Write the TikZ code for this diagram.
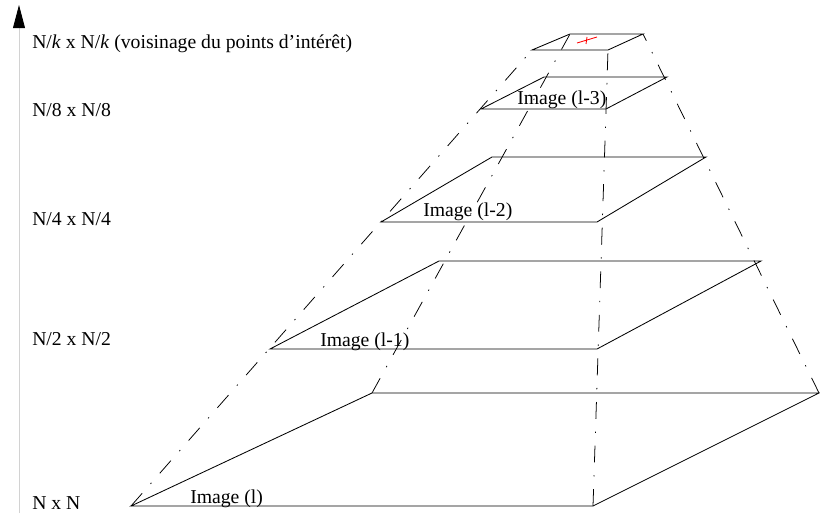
\documentclass[tikz,border=0pt]{standalone}
\usepackage{fontspec}
\setmainfont{Liberation Serif}
\usetikzlibrary{arrows.meta}

\begin{document}
\begin{tikzpicture}[x=0.025cm,y=-0.025cm,
  plane/.style={line width=0.6pt},
  edgeline/.style={line width=0.55pt,dash pattern=on 12pt off 9pt on 1pt off 9pt},
  sizelbl/.style={anchor=base west,inner sep=0pt,font=\fontsize{14}{16}\selectfont},
  imglbl/.style={anchor=base west,inner sep=0pt,font=\fontsize{14}{16}\selectfont}]
\useasboundingbox (0,0) rectangle (820,513);

% axe vertical
\coordinate (axbot) at (19,513);
\coordinate (axtop) at (19,5);
\draw[gray!35,line width=0.6pt,-{Triangle[length=0.58cm,width=0.3cm,color=black]}] (axbot) -- (axtop);

% coins des niveaux : avant-gauche, avant-droit, arriere-droit, arriere-gauche
\coordinate (a0) at (131,506); \coordinate (b0) at (593,506);
\coordinate (c0) at (819,393); \coordinate (d0) at (372,393);
\coordinate (a1) at (270,349); \coordinate (b1) at (597,349);
\coordinate (c1) at (761,261); \coordinate (d1) at (439,261);
\coordinate (a2) at (381,222); \coordinate (b2) at (597,222);
\coordinate (c2) at (706,157); \coordinate (d2) at (492,157);
\coordinate (a3) at (481,109); \coordinate (b3) at (606,109);
\coordinate (c3) at (667,77);  \coordinate (d3) at (544,77);
\coordinate (a4) at (532,50);  \coordinate (b4) at (608,50);
\coordinate (c4) at (643,34);  \coordinate (d4) at (570,34);

% aretes de la pyramide
\draw[edgeline] (a0) -- (a4);
\draw[edgeline] (b0) -- (b4);
\draw[edgeline] (c0) -- (c4);
\draw[edgeline] (d0) -- (d4);

% plans
\foreach \i in {0,...,4}
  \draw[plane] (a\i) -- (b\i) -- (c\i) -- (d\i) -- cycle;

% point d'interet
\coordinate (p1) at (577,43); \coordinate (p2) at (597,37);
\coordinate (p3) at (587,37); \coordinate (p4) at (586,44);
\draw[red,line width=0.6pt] (p1) -- (p2);
\draw[red,line width=0.6pt] (p3) -- (p4);

% tailles
\node[sizelbl] (lk) at (32,48) {N/\textit{k} x N/\textit{k} (voisinage du points d'intérêt)};
\node[sizelbl] (l8) at (32,116) {N/8 x N/8};
\node[sizelbl] (l4) at (32,225) {N/4 x N/4};
\node[sizelbl] (l2) at (32,345) {N/2 x N/2};
\node[sizelbl] (l1) at (32,509) {N x N};

% noms des images
\node[imglbl] (im3) at (517,104) {Image (l-3)};
\node[imglbl] (im2) at (423,216) {Image (l-2)};
\node[imglbl] (im1) at (320,346) {Image (l-1)};
\node[imglbl] (im0) at (190,503) {Image (l)};
\end{tikzpicture}
\end{document}
